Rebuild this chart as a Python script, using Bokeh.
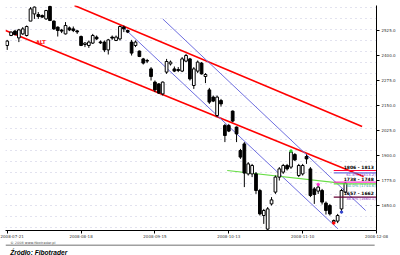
from bokeh.plotting import figure
from bokeh.layouts import column
from bokeh.models import (Range1d, FixedTicker, SingleIntervalTicker, Label,
                          ColumnDataSource, PrintfTickFormatter)
from bokeh.embed import file_html
from bokeh.resources import INLINE
from bokeh.core.properties import value

# ---- data (daily candles) ----
opens = [2450, 2500, 2522, 2488, 2508, 2500, 2572, 2608, 2605, 2600,
         2583, 2645, 2572, 2542, 2527, 2508, 2538, 2533, 2523, 2495,
         2455, 2450, 2462, 2492, 2468, 2467, 2428, 2492, 2475, 2483,
         2542, 2525, 2467, 2450, 2422, 2383, 2375, 2333, 2267, 2258,
         2208, 2317, 2358, 2333, 2330, 2322, 2372, 2383, 2250, 2322,
         2362, 2295, 2228, 2192, 2100, 2175, 2050, 2050, 2122, 2042,
         1925, 1958, 1808, 1808, 1808, 1725, 1600, 1532, 1658, 1717,
         1792, 1817, 1850, 1842, 1905, 1800, 1808, 1895, 1833, 1733,
         1722, 1725, 1662, 1650, 1567, 1572, 1633, 1717]
highs = [2478, 2520, 2528, 2533, 2542, 2550, 2642, 2645, 2617, 2605,
         2628, 2650, 2575, 2545, 2533, 2567, 2545, 2545, 2528, 2500,
         2467, 2475, 2508, 2500, 2475, 2475, 2483, 2500, 2500, 2550,
         2550, 2530, 2478, 2475, 2425, 2388, 2383, 2342, 2275, 2262,
         2270, 2383, 2375, 2345, 2342, 2392, 2408, 2388, 2342, 2375,
         2367, 2312, 2238, 2200, 2200, 2183, 2058, 2058, 2125, 2045,
         1933, 1967, 1867, 1858, 1817, 1733, 1633, 1642, 1692, 1800,
         1842, 1858, 1858, 1922, 1912, 1858, 1858, 1905, 1842, 1742,
         1755, 1733, 1670, 1658, 1580, 1608, 1733, 1767]
lows = [2428, 2497, 2500, 2467, 2503, 2495, 2572, 2583, 2583, 2588,
        2578, 2572, 2528, 2495, 2512, 2505, 2522, 2517, 2508, 2447,
        2442, 2438, 2458, 2478, 2458, 2417, 2405, 2478, 2472, 2475,
        2517, 2512, 2400, 2442, 2392, 2355, 2362, 2275, 2217, 2208,
        2200, 2308, 2350, 2317, 2317, 2317, 2367, 2275, 2233, 2312,
        2305, 2262, 2158, 2167, 2092, 2145, 1967, 2017, 2067, 1967,
        1883, 1742, 1800, 1792, 1708, 1600, 1558, 1528, 1650, 1708,
        1775, 1808, 1825, 1833, 1872, 1792, 1800, 1858, 1692, 1658,
        1708, 1655, 1605, 1600, 1562, 1562, 1617, 1712]
closes = [2472, 2517, 2505, 2528, 2533, 2545, 2633, 2642, 2595, 2592,
          2625, 2575, 2533, 2525, 2522, 2550, 2528, 2525, 2518, 2450,
          2462, 2467, 2500, 2483, 2463, 2428, 2478, 2487, 2492, 2545,
          2533, 2517, 2412, 2467, 2395, 2362, 2372, 2295, 2228, 2212,
          2267, 2370, 2367, 2322, 2325, 2383, 2400, 2283, 2333, 2367,
          2308, 2305, 2167, 2172, 2192, 2158, 2000, 2022, 2072, 2008,
          1892, 1812, 1858, 1850, 1725, 1608, 1625, 1633, 1678, 1792,
          1833, 1850, 1833, 1917, 1878, 1850, 1850, 1883, 1700, 1705,
          1742, 1667, 1625, 1608, 1575, 1600, 1725, 1762]

x_tick_pos = [0, 19, 38, 57, 76, 95]
x_tick_labels = ["2008-07-21", "2008-08-18", "2008-09-15",
                 "2008-10-13", "2008-11-10", "2008-12-08"]
y_tick_vals = [1650, 1775, 1900, 2025, 2150, 2275, 2400, 2525]

# trend lines (bar index, price)
red_low_x = [-0.44, 91.7]
red_low_y = [2525, 1795]
red_high_x = [17.3, 91.3]
red_high_y = [2650, 2045]
blue1_x = [29.6, 85.1]
blue1_y = [2545, 1533]
blue2_x = [40.0, 92.2]
blue2_y = [2583, 1625]
green_x = [56.6, 87.5]
green_y = [1825, 1758]

# fibonacci level lines
lvl_y = [1825, 1813, 1767, 1758, 1692]
lvl_colors = ["#ff0033", "#6f6fe0", "#ff33cc", "#66dd44", "#660033"]
lvl_x0 = 84
lvl_x1 = 95

zone_text = ["1806 - 1813", "1738 - 1748", "1657 - 1662"]
zone_y = [1838, 1780, 1712]
fib_text = ["61.8% (1813.2)", "50.0% (1744.6)", "38.2% (1660.1)"]
fib_y = [1806, 1750, 1683]
fib_colors = ["#7a3fd0", "#2f9aa0", "#8a2fc0"]

idx = list(range(len(opens)))

up = dict(x=[], top=[], bottom=[])
dn = dict(x=[], top=[], bottom=[])
for i, o, c in zip(idx, opens, closes):
    d = up if c >= o else dn
    d["x"].append(i)
    d["top"].append(max(o, c))
    d["bottom"].append(min(o, c))

p = figure(width=400, height=241, output_backend="svg", toolbar_location=None,
           x_range=Range1d(-0.44, 95), y_range=Range1d(1525, 2650),
           min_border_left=5, min_border_right=24, min_border_top=5,
           min_border_bottom=11, y_axis_location="right")
p.outline_line_color = None
p.background_fill_color = "white"
p.border_fill_color = "white"

# grid: faint dotted rows
p.xgrid.visible = False
p.ygrid.ticker = SingleIntervalTicker(interval=55)
p.ygrid.grid_line_color = "#b8b8d8"
p.ygrid.grid_line_dash = "1 4"
p.ygrid.grid_line_alpha = 0.8

# axes
for ax in (p.xaxis[0], p.yaxis[0]):
    ax.axis_line_color = "black"
    ax.axis_line_width = 1
    ax.major_tick_line_color = "black"
    ax.major_tick_out = 3
    ax.major_tick_in = 0
    ax.minor_tick_line_color = None
    ax.major_label_text_font = "DejaVu Sans"
    ax.major_label_text_font_size = "4px"
    ax.major_label_text_color = "#333333"
p.xaxis.major_label_standoff = 1
p.yaxis.major_label_standoff = 2
p.xaxis.ticker = FixedTicker(ticks=x_tick_pos)
p.xaxis.major_label_overrides = {t: l for t, l in zip(x_tick_pos, x_tick_labels)}
p.yaxis.ticker = FixedTicker(ticks=y_tick_vals)
p.yaxis.formatter = PrintfTickFormatter(format="%.1f")

# trend lines
p.line(red_low_x, red_low_y, line_color="#ff0000", line_width=1.6)
p.line(red_high_x, red_high_y, line_color="#ff0000", line_width=1.6)
p.line(blue1_x, blue1_y, line_color="#6f6fe0", line_width=1)
p.line(blue2_x, blue2_y, line_color="#6f6fe0", line_width=1)
p.line(green_x, green_y, line_color="#66dd44", line_width=1.2)

# candles
p.segment(x0=idx, y0=lows, x1=idx, y1=highs, line_color="black", line_width=1)
p.vbar(source=ColumnDataSource(up), x="x", top="top", bottom="bottom", width=0.7,
       fill_color="white", line_color="black", line_width=1)
p.vbar(source=ColumnDataSource(dn), x="x", top="top", bottom="bottom", width=0.7,
       fill_color="black", line_color="black", line_width=1)

# fib levels
p.segment(x0=[lvl_x0] * len(lvl_y), y0=lvl_y, x1=[lvl_x1] * len(lvl_y), y1=lvl_y,
          line_color=lvl_colors, line_width=1.2)
p.text(x=[94.3] * 3, y=zone_y, text=zone_text, text_align="right",
       text_baseline="middle", text_font=value("DejaVu Sans"),
       text_font_size="4.5px", text_font_style="bold", text_color="black")
p.text(x=[94.8] * 3, y=fib_y, text=fib_text, text_align="right",
       text_baseline="middle", text_font=value("DejaVu Sans"),
       text_font_size="3.8px", text_color=fib_colors)

# small markers
p.scatter([73, 80], [highs[73], highs[80]], size=2.5, color=["#33cc33", "#ff33cc"])
p.scatter([84, 86], [lows[84], lows[86]], size=2.5, color=["#ff0000", "#3344cc"])

p.add_layout(Label(x=7.4, y=2468, text="ALT", text_color="#ff0000",
                   text_font="DejaVu Sans", text_font_size="5px",
                   text_font_style="bold", text_baseline="middle"))

# current price box on the axis
p.add_layout(Label(x=372, x_units="screen", y=closes[-1], text=f"{closes[-1]:.2f}",
                   text_baseline="middle", text_font="DejaVu Sans",
                   text_font_size="4.5px", text_color="black",
                   border_line_color="black", background_fill_color="white",
                   padding=1))

# ---- footer strip ----
f = figure(width=400, height=14, output_backend="svg", toolbar_location=None,
           x_range=Range1d(0, 400), y_range=Range1d(14, 0),
           min_border=0, x_axis_type=None, y_axis_type=None)
f.outline_line_color = None
f.grid.visible = False
f.background_fill_color = "white"
f.border_fill_color = "white"
f.quad(left=[0], right=[398], top=[3], bottom=[4.6], fill_color="#a0a0a0",
       line_color=None)
f.text(x=[5], y=[1.2], text=["\u00a9 2008 www.fibotrader.pl"],
       text_font=value("DejaVu Sans"), text_font_size="3.5px",
       text_color="#555555", text_baseline="middle")
f.text(x=[5], y=[11.3], text=["\u0179r\u00f3d\u0142o: Fibotrader"],
       text_font=value("Liberation Sans"), text_font_size="6.6px",
       text_font_style="bold italic", text_color="black",
       text_baseline="alphabetic")

open("out.html", "w").write(file_html(column(p, f, spacing=0), INLINE))
